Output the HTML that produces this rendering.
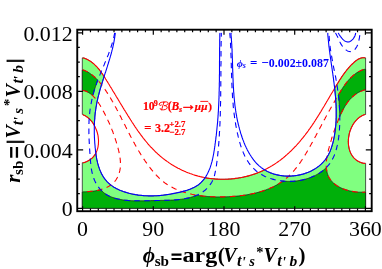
<!DOCTYPE html><html><head><meta charset="utf-8"><style>html,body{margin:0;padding:0;background:#fff}</style></head><body><svg width="382" height="269" viewBox="0 0 382 269" style="display:block;will-change:transform">
<defs>
<clipPath id="pr"><rect x="82.3" y="32.5" width="283.4" height="176.1"/></clipPath>
</defs>
<rect width="382" height="269" fill="#fff"/>
<path d="M365.6 57.9 L365.4 57.9 L364.3 57.7 L363.2 57.7 L362.2 57.8 L361.2 58.0 L360.3 58.3 L359.3 58.7 L358.5 59.1 L357.6 59.6 L356.8 60.1 L356.0 60.7 L355.2 61.3 L354.4 62.0 L353.7 62.7 L353.0 63.3 L352.2 64.0 L351.5 64.7 L350.8 65.4 L350.1 66.1 L349.5 66.9 L348.8 67.6 L348.2 68.4 L347.5 69.1 L346.9 69.9 L346.3 70.7 L345.6 71.5 L345.0 72.3 L344.4 73.1 L343.9 73.9 L343.3 74.7 L342.7 75.5 L342.1 76.3 L341.6 77.2 L341.0 78.0 L340.5 78.9 L339.9 79.7 L339.4 80.5 L338.8 81.4 L338.3 82.3 L337.8 83.1 L337.2 84.0 L336.7 84.8 L336.2 85.7 L335.7 86.6 L335.1 87.4 L334.6 88.3 L334.7 88.6 L334.8 89.6 L334.9 90.6 L335.0 91.6 L335.1 92.6 L335.2 93.6 L335.3 94.6 L335.4 95.6 L335.5 96.6 L335.6 97.6 L335.6 98.6 L335.7 99.6 L335.8 100.6 L335.8 101.6 L335.9 102.6 L336.0 103.6 L336.0 104.6 L336.1 105.6 L336.1 106.6 L336.1 107.6 L336.2 108.6 L336.2 109.6 L336.2 110.6 L336.2 111.6 L336.2 112.6 L336.2 113.6 L336.2 114.6 L336.2 115.7 L336.2 116.7 L336.2 117.7 L336.1 118.7 L336.1 119.7 L336.1 120.7 L336.0 121.7 L335.9 122.7 L335.9 123.7 L335.8 124.7 L335.7 125.8 L335.6 126.8 L335.5 127.8 L335.4 128.8 L335.3 129.8 L335.2 130.8 L335.0 131.8 L334.9 132.8 L334.7 133.8 L334.6 134.8 L334.4 135.8 L334.2 136.8 L334.0 137.8 L333.8 138.9 L333.6 139.9 L333.4 140.9 L333.1 141.8 L332.9 142.8 L332.6 143.8 L332.3 144.8 L332.0 145.8 L331.7 146.8 L331.4 147.7 L331.1 148.7 L330.7 149.6 L330.3 150.6 L330.0 151.5 L329.6 152.4 L329.1 153.3 L328.7 154.2 L328.2 155.1 L327.7 155.9 L327.2 156.8 L326.7 157.6 L326.2 158.4 L325.6 159.2 L325.0 160.0 L324.4 160.7 L323.7 161.5 L323.1 162.2 L322.4 162.9 L321.7 163.6 L321.0 164.3 L320.3 164.9 L319.5 165.6 L318.8 166.2 L318.0 166.8 L317.2 167.4 L316.4 167.9 L315.5 168.5 L314.7 169.0 L313.8 169.5 L312.9 170.0 L312.1 170.5 L311.2 170.9 L310.3 171.4 L309.3 171.8 L308.4 172.2 L307.5 172.5 L306.5 172.9 L305.5 173.2 L304.6 173.6 L303.6 173.9 L302.6 174.2 L301.6 174.4 L300.6 174.7 L299.6 174.9 L298.6 175.1 L297.6 175.3 L296.6 175.5 L295.6 175.6 L294.6 175.7 L293.5 175.9 L292.5 175.9 L291.5 176.0 L290.4 176.1 L289.4 176.1 L288.4 176.1 L287.4 176.1 L286.3 176.1 L285.3 176.0 L284.3 176.0 L283.3 175.9 L282.3 175.8 L281.3 175.6 L280.3 175.5 L279.3 175.3 L278.3 175.1 L277.3 174.9 L276.3 174.7 L275.3 174.4 L274.4 174.2 L273.4 173.9 L272.5 173.6 L271.6 173.2 L270.6 172.9 L269.7 172.5 L268.8 172.1 L267.9 171.7 L267.1 171.3 L266.2 170.8 L265.4 170.3 L264.5 169.9 L264.5 169.9 L263.6 170.3 L262.7 170.8 L261.7 171.2 L260.8 171.6 L259.9 172.0 L259.0 172.3 L258.0 172.7 L257.1 173.1 L256.1 173.4 L255.2 173.8 L254.2 174.1 L253.3 174.4 L252.3 174.7 L251.4 175.0 L250.4 175.3 L249.4 175.6 L248.5 175.9 L247.5 176.1 L246.5 176.4 L245.5 176.6 L244.5 176.8 L243.5 177.1 L242.5 177.3 L241.5 177.5 L240.5 177.7 L239.5 177.8 L238.5 178.0 L237.5 178.2 L236.5 178.3 L235.5 178.4 L234.5 178.6 L233.5 178.7 L232.5 178.8 L231.5 178.9 L230.5 179.0 L229.5 179.0 L228.4 179.1 L227.4 179.2 L226.4 179.2 L225.4 179.2 L224.4 179.3 L223.4 179.3 L222.4 179.3 L221.3 179.3 L220.3 179.3 L219.3 179.2 L218.3 179.2 L217.3 179.1 L216.3 179.1 L215.3 179.0 L214.3 178.9 L213.2 178.8 L212.2 178.7 L211.2 178.6 L210.2 178.5 L209.2 178.4 L208.2 178.2 L207.2 178.1 L206.3 177.9 L205.3 177.7 L205.1 177.7 L204.6 178.4 L204.0 179.2 L203.4 180.0 L202.7 180.7 L202.1 181.4 L201.4 182.2 L200.7 182.8 L200.0 183.5 L199.2 184.1 L198.5 184.7 L197.7 185.3 L196.9 185.8 L196.0 186.3 L195.2 186.8 L194.3 187.3 L193.4 187.7 L192.5 188.1 L191.6 188.5 L190.7 188.9 L189.8 189.3 L188.8 189.6 L187.8 190.0 L186.9 190.3 L185.9 190.6 L184.9 190.9 L183.9 191.1 L182.9 191.4 L181.9 191.7 L180.9 191.9 L180.0 192.2 L179.0 192.4 L178.0 192.6 L177.0 192.8 L176.0 193.0 L175.0 193.2 L174.0 193.4 L173.0 193.6 L172.0 193.8 L171.0 194.0 L170.0 194.2 L169.1 194.3 L168.1 194.5 L167.1 194.6 L166.1 194.8 L165.1 194.9 L164.1 195.0 L163.1 195.2 L162.2 195.3 L161.2 195.4 L160.2 195.5 L159.2 195.6 L158.2 195.6 L157.2 195.7 L156.2 195.8 L155.3 195.8 L154.3 195.8 L153.3 195.9 L152.3 195.9 L151.3 195.9 L150.3 195.9 L149.3 195.9 L148.3 195.9 L147.3 195.8 L146.3 195.8 L145.3 195.7 L144.3 195.7 L143.3 195.6 L142.3 195.5 L141.3 195.4 L140.3 195.3 L139.3 195.2 L138.2 195.1 L137.2 194.9 L136.2 194.7 L135.2 194.6 L134.2 194.4 L133.1 194.2 L132.1 194.0 L131.1 193.8 L130.1 193.5 L129.1 193.3 L128.1 193.0 L127.1 192.7 L126.1 192.4 L125.1 192.1 L124.1 191.8 L123.1 191.5 L122.2 191.1 L121.2 190.7 L120.3 190.4 L119.3 190.0 L118.4 189.5 L117.5 189.1 L116.6 188.7 L115.8 188.2 L114.9 187.7 L114.0 187.2 L113.2 186.7 L112.4 186.1 L111.6 185.6 L110.8 185.0 L110.1 184.4 L109.3 183.8 L108.6 183.1 L107.9 182.5 L107.2 181.8 L106.6 181.1 L106.0 180.4 L105.4 179.7 L104.8 178.9 L104.2 178.2 L103.7 177.4 L103.2 176.6 L102.7 175.7 L102.2 174.9 L101.7 174.1 L101.3 173.2 L100.9 172.3 L100.5 171.4 L100.1 170.5 L99.7 169.6 L99.4 168.7 L99.1 167.7 L98.7 166.8 L98.4 165.8 L98.2 164.8 L97.9 163.9 L97.6 162.9 L97.4 161.9 L97.2 160.9 L96.9 159.9 L96.7 158.9 L96.5 157.8 L96.4 156.8 L96.2 155.8 L96.0 154.7 L95.9 153.7 L95.8 153.1 L95.5 153.7 L95.0 154.5 L94.4 155.3 L93.9 156.1 L93.2 156.9 L92.6 157.6 L91.9 158.3 L91.1 158.9 L90.3 159.5 L89.5 160.1 L88.6 160.6 L87.7 161.1 L86.7 161.6 L85.7 162.0 L84.7 162.4 L83.6 162.7 L82.6 162.7 L82.3 162.7 L82.3 208.3 L365.6 208.3 L365.6 163.4 L365.4 163.4 L364.3 163.4 L363.2 163.2 L362.1 162.9 L361.1 162.6 L360.1 162.2 L359.1 161.8 L358.2 161.3 L357.3 160.8 L356.5 160.2 L355.7 159.6 L355.0 158.9 L354.3 158.3 L353.6 157.6 L353.0 156.8 L352.4 156.0 L351.9 155.2 L351.4 154.4 L350.9 153.5 L350.5 152.6 L350.1 151.7 L349.8 150.8 L349.5 149.8 L349.2 148.8 L349.0 147.8 L348.8 146.8 L348.6 145.8 L348.5 144.8 L348.4 143.8 L348.4 142.7 L348.3 141.6 L348.4 140.6 L348.4 139.5 L348.5 138.5 L348.6 137.4 L348.8 136.3 L349.0 135.3 L349.2 134.2 L349.4 133.2 L349.7 132.2 L350.0 131.1 L350.4 130.1 L350.8 129.1 L351.2 128.1 L351.6 127.2 L352.1 126.2 L352.6 125.3 L353.1 124.4 L353.7 123.5 L354.2 122.7 L354.9 121.9 L355.5 121.1 L356.2 120.3 L356.9 119.6 L357.6 118.9 L358.3 118.2 L359.1 117.6 L359.9 117.0 L360.7 116.5 L361.6 116.0 L362.5 115.5 L363.4 115.1 L364.3 114.7 L365.4 114.5 L365.6 114.5Z M82.3 114.4 L82.6 114.4 L83.5 114.9 L84.4 115.4 L85.3 115.8 L86.1 116.4 L87.0 116.9 L87.7 117.5 L88.5 118.2 L89.3 118.8 L90.0 119.5 L90.7 120.3 L91.3 121.0 L92.0 121.8 L92.6 122.7 L93.2 123.5 L93.7 124.4 L94.2 125.3 L94.4 125.5 L94.4 125.2 L94.4 124.2 L94.4 123.2 L94.5 122.2 L94.5 121.2 L94.6 120.3 L94.7 119.3 L94.8 118.3 L94.8 117.3 L94.9 116.3 L95.0 115.3 L95.1 114.4 L95.2 113.4 L95.3 112.4 L95.5 111.4 L95.6 110.5 L95.7 109.5 L95.9 108.5 L96.0 107.5 L96.2 106.6 L96.4 105.6 L96.5 104.6 L96.7 103.6 L96.9 102.7 L97.1 101.7 L97.3 100.7 L97.5 99.8 L97.7 98.8 L97.9 97.8 L98.2 96.8 L98.4 95.9 L98.7 94.9 L98.9 93.9 L99.2 93.0 L99.4 92.0 L99.7 91.0 L99.9 90.1 L100.2 89.1 L100.5 88.1 L100.8 87.2 L101.1 86.2 L101.4 85.2 L101.7 84.3 L102.0 83.3 L102.3 82.3 L102.6 81.4 L102.9 80.4 L103.2 79.4 L103.5 78.5 L103.8 77.5 L104.1 76.5 L104.1 76.5 L104.0 76.4 L103.4 75.5 L102.9 74.7 L102.3 73.8 L101.7 73.0 L101.1 72.2 L100.5 71.3 L99.9 70.5 L99.3 69.7 L98.7 68.9 L98.0 68.2 L97.4 67.4 L96.7 66.7 L96.0 66.0 L95.3 65.3 L94.6 64.6 L93.9 63.9 L93.1 63.3 L92.4 62.7 L91.6 62.1 L90.8 61.5 L90.0 61.0 L89.1 60.4 L88.3 60.0 L87.4 59.5 L86.5 59.1 L85.6 58.7 L84.6 58.3 L83.7 58.0 L82.6 57.9 L82.3 57.9Z" fill="#80ff80" stroke="#151515" stroke-width="0.7" stroke-linejoin="round"/>
<path d="M365.6 69.4 L365.4 69.4 L364.2 69.3 L363.3 69.6 L362.3 69.9 L361.4 70.3 L360.5 70.7 L359.6 71.2 L358.7 71.6 L357.9 72.1 L357.0 72.6 L356.2 73.2 L355.4 73.7 L354.7 74.3 L353.9 74.9 L353.2 75.5 L352.4 76.2 L351.7 76.8 L351.0 77.5 L350.3 78.2 L349.6 78.9 L349.0 79.6 L348.3 80.4 L347.7 81.1 L347.1 81.9 L346.4 82.7 L345.8 83.5 L345.2 84.3 L344.7 85.1 L344.1 85.9 L343.5 86.7 L342.9 87.6 L342.4 88.4 L341.8 89.3 L341.3 90.2 L340.7 91.0 L340.2 91.9 L339.7 92.8 L339.1 93.6 L338.6 94.5 L338.4 95.0 L338.4 95.2 L338.5 96.2 L338.6 97.2 L338.7 98.2 L338.8 99.2 L338.9 100.2 L339.0 101.2 L339.1 102.2 L339.1 103.1 L339.2 104.1 L339.3 105.1 L339.4 106.1 L339.4 107.1 L339.5 108.1 L339.5 109.1 L339.6 110.1 L339.6 111.1 L339.6 112.1 L339.7 113.1 L339.7 114.2 L339.7 115.2 L339.8 116.2 L339.8 116.6 L339.8 116.4 L340.2 115.5 L340.7 114.6 L341.1 113.6 L341.5 112.7 L342.0 111.8 L342.4 110.9 L342.9 109.9 L343.4 109.0 L343.9 108.2 L344.4 107.3 L344.9 106.4 L345.4 105.5 L346.0 104.7 L346.5 103.8 L347.1 103.0 L347.7 102.2 L348.3 101.4 L348.9 100.6 L349.6 99.9 L350.2 99.1 L350.9 98.4 L351.6 97.7 L352.3 97.0 L353.0 96.3 L353.8 95.7 L354.5 95.1 L355.3 94.5 L356.1 93.9 L356.9 93.4 L357.8 92.8 L358.7 92.3 L359.5 91.9 L360.5 91.4 L361.4 91.0 L362.4 90.7 L363.4 90.3 L364.4 90.0 L365.4 90.0 L365.6 90.0Z M82.3 208.3 L365.6 208.3 L365.6 192.3 L365.4 192.3 L364.5 192.1 L363.5 192.2 L362.6 192.2 L361.6 192.2 L360.6 192.2 L359.6 192.2 L358.6 192.2 L357.5 192.1 L356.5 192.0 L355.5 191.9 L354.4 191.8 L353.4 191.6 L352.4 191.4 L351.3 191.2 L350.3 191.0 L349.2 190.8 L348.2 190.5 L347.2 190.2 L346.2 189.9 L345.2 189.6 L344.2 189.2 L343.2 188.9 L342.2 188.5 L341.3 188.0 L340.3 187.6 L339.4 187.1 L338.5 186.6 L337.6 186.1 L336.8 185.6 L336.0 185.0 L335.2 184.4 L334.4 183.8 L333.6 183.2 L332.9 182.5 L332.2 181.9 L331.6 181.2 L331.0 180.4 L330.4 179.7 L329.9 178.9 L329.4 178.1 L328.9 177.3 L328.5 176.4 L328.1 175.6 L327.8 174.7 L327.5 173.8 L327.2 172.9 L327.0 171.9 L326.8 170.9 L326.6 170.0 L326.5 169.0 L326.4 168.0 L326.3 167.5 L325.8 168.0 L325.1 168.7 L324.4 169.3 L323.6 170.0 L322.9 170.6 L322.1 171.2 L321.3 171.8 L320.5 172.3 L319.7 172.9 L318.8 173.4 L318.0 173.9 L317.1 174.4 L316.2 174.9 L315.3 175.4 L314.5 175.8 L313.5 176.2 L312.6 176.6 L311.7 177.0 L310.8 177.4 L309.8 177.8 L308.9 178.1 L307.9 178.4 L307.0 178.7 L306.0 179.0 L305.0 179.3 L304.0 179.6 L303.0 179.8 L302.0 180.0 L301.0 180.2 L300.0 180.4 L299.0 180.6 L298.0 180.7 L297.0 180.9 L296.0 181.0 L294.9 181.1 L293.9 181.2 L292.9 181.3 L291.8 181.3 L290.8 181.4 L289.8 181.4 L288.7 181.4 L287.7 181.4 L286.7 181.3 L285.6 181.3 L284.6 181.2 L283.6 181.1 L282.7 181.1 L282.3 181.4 L281.5 182.0 L280.6 182.5 L279.8 183.0 L279.0 183.6 L278.2 184.1 L277.3 184.6 L276.5 185.1 L275.6 185.5 L274.7 186.0 L273.9 186.4 L273.0 186.9 L272.1 187.3 L271.2 187.7 L270.3 188.1 L269.4 188.5 L268.5 188.9 L267.5 189.2 L266.6 189.6 L265.7 190.0 L264.7 190.3 L263.8 190.6 L262.8 190.9 L261.9 191.2 L260.9 191.5 L260.0 191.8 L259.0 192.1 L258.0 192.4 L257.1 192.6 L256.1 192.9 L255.1 193.1 L254.1 193.4 L253.1 193.6 L252.1 193.8 L251.1 194.0 L250.1 194.2 L249.1 194.4 L248.1 194.6 L247.1 194.8 L246.1 194.9 L245.1 195.1 L244.1 195.2 L243.0 195.4 L242.0 195.5 L241.0 195.6 L240.0 195.8 L239.0 195.9 L238.0 196.0 L236.9 196.1 L235.9 196.2 L234.9 196.3 L233.9 196.4 L232.9 196.4 L231.8 196.5 L230.8 196.6 L229.8 196.6 L228.8 196.7 L227.8 196.7 L226.7 196.8 L225.7 196.8 L224.7 196.8 L223.7 196.9 L222.7 196.9 L221.7 196.9 L220.7 196.9 L219.7 196.9 L218.7 196.9 L217.7 196.9 L216.7 196.9 L215.7 196.9 L214.7 196.9 L213.7 196.8 L212.7 196.8 L211.7 196.8 L210.7 196.7 L209.7 196.6 L208.7 196.6 L207.7 196.5 L206.7 196.4 L205.7 196.3 L204.7 196.3 L203.8 196.2 L202.8 196.0 L201.8 195.9 L200.8 195.8 L199.8 195.7 L198.8 195.5 L197.8 195.4 L196.8 195.2 L196.8 195.2 L196.2 195.5 L195.2 195.8 L194.3 196.2 L193.4 196.5 L192.5 196.8 L191.5 197.1 L190.5 197.4 L189.6 197.6 L188.6 197.9 L187.6 198.1 L186.6 198.3 L185.6 198.5 L184.6 198.7 L183.6 198.9 L182.6 199.0 L181.5 199.2 L180.5 199.3 L179.5 199.5 L178.4 199.6 L177.4 199.7 L176.4 199.8 L175.3 199.9 L174.3 199.9 L173.2 200.0 L172.2 200.1 L171.1 200.1 L170.1 200.2 L169.1 200.2 L168.0 200.3 L167.0 200.3 L166.0 200.3 L164.9 200.3 L163.9 200.4 L162.9 200.4 L161.9 200.4 L160.9 200.4 L159.9 200.5 L158.9 200.5 L157.9 200.5 L156.9 200.5 L155.9 200.5 L155.0 200.6 L154.0 200.6 L153.0 200.6 L152.1 200.6 L151.1 200.6 L150.1 200.7 L149.2 200.7 L148.2 200.7 L147.3 200.7 L146.3 200.7 L145.3 200.8 L144.4 200.8 L143.4 200.8 L142.4 200.8 L141.4 200.8 L140.4 200.8 L139.4 200.8 L138.4 200.8 L137.4 200.8 L136.4 200.8 L135.3 200.8 L134.3 200.8 L133.3 200.8 L132.3 200.7 L131.3 200.7 L130.2 200.6 L129.2 200.6 L128.2 200.5 L127.2 200.4 L126.1 200.3 L125.1 200.2 L124.1 200.1 L123.1 199.9 L122.1 199.8 L121.1 199.6 L120.1 199.4 L119.1 199.2 L118.1 199.0 L117.1 198.8 L116.1 198.5 L115.1 198.2 L114.2 197.9 L113.2 197.6 L112.3 197.3 L111.3 196.9 L110.4 196.6 L109.5 196.2 L108.6 195.7 L107.7 195.3 L106.8 194.8 L106.0 194.2 L105.2 193.7 L104.3 193.1 L103.6 192.5 L102.8 191.8 L102.1 191.1 L101.3 190.4 L100.6 189.7 L100.6 189.7 L99.7 189.9 L98.7 190.1 L97.7 190.4 L96.6 190.6 L95.6 190.8 L94.6 190.9 L93.5 191.1 L92.5 191.2 L91.4 191.3 L90.4 191.4 L89.4 191.5 L88.4 191.6 L87.4 191.7 L86.4 191.7 L85.4 191.8 L84.5 191.8 L83.5 191.8 L82.6 192.0 L82.3 192.0Z M82.3 90.5 L82.6 90.5 L83.8 90.5 L84.7 90.8 L85.7 91.1 L86.6 91.5 L87.4 91.9 L88.3 92.4 L89.1 92.9 L89.9 93.4 L90.7 94.0 L91.5 94.6 L92.2 95.2 L92.8 95.8 L92.9 95.3 L93.2 94.3 L93.5 93.3 L93.7 92.3 L94.0 91.4 L94.3 90.4 L94.6 89.4 L94.9 88.5 L95.2 87.5 L95.5 86.6 L95.8 85.6 L96.2 84.7 L96.5 83.7 L96.8 82.8 L97.2 81.8 L97.5 80.9 L97.8 80.2 L97.4 79.8 L96.7 79.1 L96.0 78.4 L95.3 77.7 L94.6 77.0 L93.8 76.4 L93.1 75.7 L92.3 75.1 L91.5 74.5 L90.7 73.9 L89.9 73.4 L89.1 72.8 L88.2 72.3 L87.4 71.8 L86.5 71.4 L85.6 70.9 L84.6 70.5 L83.7 70.1 L82.6 70.0 L82.3 70.0Z" fill="#00b00a" stroke="#151515" stroke-width="0.7" stroke-linejoin="round"/>
<g clip-path="url(#pr)" fill="none" stroke-width="1.1" stroke-linejoin="round">
<path stroke="#ff0000" d="M82.6 57.9 L83.7 58.0 L84.6 58.3 L85.6 58.7 L86.5 59.1 L87.4 59.5 L88.3 60.0 L89.1 60.4 L90.0 61.0 L90.8 61.5 L91.6 62.1 L92.4 62.7 L93.1 63.3 L93.9 63.9 L94.6 64.6 L95.3 65.3 L96.0 66.0 L96.7 66.7 L97.4 67.4 L98.0 68.2 L98.7 68.9 L99.3 69.7 L99.9 70.5 L100.5 71.3 L101.1 72.2 L101.7 73.0 L102.3 73.8 L102.9 74.7 L103.4 75.5 L104.0 76.4 L104.6 77.2 L105.1 78.1 L105.6 79.0 L106.2 79.8 L106.7 80.7 L107.3 81.6 L107.8 82.4 L108.3 83.3 L108.9 84.2 L109.4 85.0 L109.9 85.9 L110.4 86.8 L111.0 87.6 L111.5 88.5 L112.0 89.3 L112.5 90.2 L113.0 91.1 L113.5 91.9 L114.1 92.8 L114.6 93.6 L115.1 94.5 L115.6 95.3 L116.1 96.2 L116.6 97.0 L117.1 97.9 L117.7 98.7 L118.2 99.6 L118.7 100.4 L119.2 101.3 L119.7 102.1 L120.2 103.0 L120.7 103.8 L121.2 104.7 L121.8 105.5 L122.3 106.4 L122.8 107.2 L123.3 108.1 L123.8 108.9 L124.3 109.8 L124.9 110.6 L125.4 111.5 L125.9 112.3 L126.4 113.2 L127.0 114.0 L127.5 114.9 L128.0 115.7 L128.6 116.6 L129.1 117.4 L129.6 118.3 L130.2 119.1 L130.7 120.0 L131.3 120.8 L131.8 121.7 L132.3 122.5 L132.9 123.4 L133.5 124.2 L134.0 125.1 L134.6 125.9 L135.1 126.8 L135.7 127.6 L136.3 128.5 L136.9 129.3 L137.4 130.1 L138.0 131.0 L138.6 131.8 L139.2 132.6 L139.8 133.4 L140.4 134.3 L141.0 135.1 L141.6 135.9 L142.2 136.7 L142.8 137.5 L143.4 138.3 L144.1 139.1 L144.7 139.9 L145.3 140.7 L146.0 141.5 L146.6 142.2 L147.3 143.0 L147.9 143.8 L148.6 144.5 L149.2 145.3 L149.9 146.0 L150.6 146.8 L151.3 147.5 L152.0 148.2 L152.7 149.0 L153.4 149.7 L154.1 150.4 L154.8 151.1 L155.5 151.8 L156.2 152.5 L157.0 153.2 L157.7 153.9 L158.4 154.5 L159.2 155.2 L159.9 155.8 L160.7 156.5 L161.5 157.1 L162.3 157.8 L163.0 158.4 L163.8 159.0 L164.6 159.6 L165.4 160.2 L166.2 160.8 L167.0 161.4 L167.8 161.9 L168.7 162.5 L169.5 163.1 L170.3 163.6 L171.2 164.2 L172.0 164.7 L172.9 165.2 L173.7 165.7 L174.6 166.2 L175.4 166.7 L176.3 167.2 L177.2 167.7 L178.0 168.2 L178.9 168.6 L179.8 169.1 L180.7 169.5 L181.6 170.0 L182.5 170.4 L183.4 170.8 L184.3 171.2 L185.2 171.6 L186.1 172.0 L187.1 172.4 L188.0 172.8 L188.9 173.1 L189.9 173.5 L190.8 173.8 L191.7 174.1 L192.7 174.5 L193.6 174.8 L194.6 175.1 L195.5 175.4 L196.5 175.6 L197.5 175.9 L198.4 176.2 L199.4 176.4 L200.4 176.7 L201.3 176.9 L202.3 177.1 L203.3 177.3 L204.3 177.5 L205.3 177.7 L206.3 177.9 L207.2 178.1 L208.2 178.2 L209.2 178.4 L210.2 178.5 L211.2 178.6 L212.2 178.7 L213.2 178.8 L214.3 178.9 L215.3 179.0 L216.3 179.1 L217.3 179.1 L218.3 179.2 L219.3 179.2 L220.3 179.3 L221.3 179.3 L222.4 179.3 L223.4 179.3 L224.4 179.3 L225.4 179.2 L226.4 179.2 L227.4 179.2 L228.4 179.1 L229.5 179.0 L230.5 179.0 L231.5 178.9 L232.5 178.8 L233.5 178.7 L234.5 178.6 L235.5 178.4 L236.5 178.3 L237.5 178.2 L238.5 178.0 L239.5 177.8 L240.5 177.7 L241.5 177.5 L242.5 177.3 L243.5 177.1 L244.5 176.8 L245.5 176.6 L246.5 176.4 L247.5 176.1 L248.5 175.9 L249.4 175.6 L250.4 175.3 L251.4 175.0 L252.3 174.7 L253.3 174.4 L254.2 174.1 L255.2 173.8 L256.1 173.4 L257.1 173.1 L258.0 172.7 L259.0 172.3 L259.9 172.0 L260.8 171.6 L261.7 171.2 L262.7 170.8 L263.6 170.3 L264.5 169.9 L265.4 169.5 L266.2 169.0 L267.1 168.6 L268.0 168.1 L268.9 167.6 L269.8 167.1 L270.6 166.6 L271.5 166.1 L272.3 165.6 L273.2 165.1 L274.0 164.5 L274.8 164.0 L275.7 163.4 L276.5 162.9 L277.3 162.3 L278.1 161.7 L278.9 161.1 L279.7 160.6 L280.5 160.0 L281.3 159.3 L282.1 158.7 L282.9 158.1 L283.7 157.5 L284.4 156.8 L285.2 156.2 L285.9 155.5 L286.7 154.9 L287.4 154.2 L288.2 153.5 L288.9 152.9 L289.6 152.2 L290.4 151.5 L291.1 150.8 L291.8 150.1 L292.5 149.4 L293.2 148.7 L293.9 148.0 L294.6 147.2 L295.3 146.5 L296.0 145.8 L296.7 145.0 L297.3 144.3 L298.0 143.5 L298.7 142.8 L299.3 142.0 L300.0 141.3 L300.6 140.5 L301.3 139.7 L301.9 138.9 L302.6 138.2 L303.2 137.4 L303.8 136.6 L304.4 135.8 L305.1 135.0 L305.7 134.2 L306.3 133.4 L306.9 132.6 L307.5 131.8 L308.1 131.0 L308.6 130.2 L309.2 129.4 L309.8 128.6 L310.4 127.7 L311.0 126.9 L311.5 126.1 L312.1 125.3 L312.7 124.4 L313.2 123.6 L313.8 122.8 L314.3 121.9 L314.9 121.1 L315.4 120.2 L316.0 119.4 L316.5 118.5 L317.0 117.7 L317.6 116.9 L318.1 116.0 L318.6 115.1 L319.2 114.3 L319.7 113.4 L320.2 112.6 L320.8 111.7 L321.3 110.9 L321.8 110.0 L322.3 109.1 L322.8 108.3 L323.3 107.4 L323.9 106.5 L324.4 105.7 L324.9 104.8 L325.4 103.9 L325.9 103.1 L326.4 102.2 L326.9 101.3 L327.5 100.5 L328.0 99.6 L328.5 98.7 L329.0 97.9 L329.5 97.0 L330.0 96.1 L330.5 95.3 L331.0 94.4 L331.5 93.5 L332.1 92.6 L332.6 91.8 L333.1 90.9 L333.6 90.0 L334.1 89.2 L334.6 88.3 L335.1 87.4 L335.7 86.6 L336.2 85.7 L336.7 84.8 L337.2 84.0 L337.8 83.1 L338.3 82.3 L338.8 81.4 L339.4 80.5 L339.9 79.7 L340.5 78.9 L341.0 78.0 L341.6 77.2 L342.1 76.3 L342.7 75.5 L343.3 74.7 L343.9 73.9 L344.4 73.1 L345.0 72.3 L345.6 71.5 L346.3 70.7 L346.9 69.9 L347.5 69.1 L348.2 68.4 L348.8 67.6 L349.5 66.9 L350.1 66.1 L350.8 65.4 L351.5 64.7 L352.2 64.0 L353.0 63.3 L353.7 62.7 L354.4 62.0 L355.2 61.3 L356.0 60.7 L356.8 60.1 L357.6 59.6 L358.5 59.1 L359.3 58.7 L360.3 58.3 L361.2 58.0 L362.2 57.8 L363.2 57.7 L364.3 57.7 L365.4 57.9"/>
<path stroke="#ff0000" d="M82.6 114.4 L83.5 114.9 L84.4 115.4 L85.3 115.8 L86.1 116.4 L87.0 116.9 L87.7 117.5 L88.5 118.2 L89.3 118.8 L90.0 119.5 L90.7 120.3 L91.3 121.0 L92.0 121.8 L92.6 122.7 L93.2 123.5 L93.7 124.4 L94.2 125.3 L94.7 126.2 L95.2 127.1 L95.6 128.1 L96.0 129.0 L96.4 130.0 L96.8 131.0 L97.1 132.0 L97.4 133.0 L97.6 134.0 L97.9 135.0 L98.1 136.1 L98.2 137.1 L98.3 138.1 L98.4 139.2 L98.5 140.2 L98.5 141.3 L98.5 142.3 L98.4 143.3 L98.4 144.3 L98.2 145.3 L98.1 146.3 L97.9 147.3 L97.7 148.3 L97.4 149.2 L97.1 150.2 L96.7 151.1 L96.4 152.0 L95.9 152.9 L95.5 153.7 L95.0 154.5 L94.4 155.3 L93.9 156.1 L93.2 156.9 L92.6 157.6 L91.9 158.3 L91.1 158.9 L90.3 159.5 L89.5 160.1 L88.6 160.6 L87.7 161.1 L86.7 161.6 L85.7 162.0 L84.7 162.4 L83.6 162.7 L82.6 162.7"/>
<path stroke="#ff0000" d="M365.4 114.5 L364.3 114.7 L363.4 115.1 L362.5 115.5 L361.6 116.0 L360.7 116.5 L359.9 117.0 L359.1 117.6 L358.3 118.2 L357.6 118.9 L356.9 119.6 L356.2 120.3 L355.5 121.1 L354.9 121.9 L354.2 122.7 L353.7 123.5 L353.1 124.4 L352.6 125.3 L352.1 126.2 L351.6 127.2 L351.2 128.1 L350.8 129.1 L350.4 130.1 L350.0 131.1 L349.7 132.2 L349.4 133.2 L349.2 134.2 L349.0 135.3 L348.8 136.3 L348.6 137.4 L348.5 138.5 L348.4 139.5 L348.4 140.6 L348.3 141.6 L348.4 142.7 L348.4 143.8 L348.5 144.8 L348.6 145.8 L348.8 146.8 L349.0 147.8 L349.2 148.8 L349.5 149.8 L349.8 150.8 L350.1 151.7 L350.5 152.6 L350.9 153.5 L351.4 154.4 L351.9 155.2 L352.4 156.0 L353.0 156.8 L353.6 157.6 L354.3 158.3 L355.0 158.9 L355.7 159.6 L356.5 160.2 L357.3 160.8 L358.2 161.3 L359.1 161.8 L360.1 162.2 L361.1 162.6 L362.1 162.9 L363.2 163.2 L364.3 163.4 L365.4 163.4"/>
<path stroke="#ff0000" stroke-dasharray="5.5 4.5" d="M82.6 70.0 L83.7 70.1 L84.6 70.5 L85.6 70.9 L86.5 71.4 L87.4 71.8 L88.2 72.3 L89.1 72.8 L89.9 73.4 L90.7 73.9 L91.5 74.5 L92.3 75.1 L93.1 75.7 L93.8 76.4 L94.6 77.0 L95.3 77.7 L96.0 78.4 L96.7 79.1 L97.4 79.8 L98.1 80.5 L98.8 81.2 L99.4 82.0 L100.1 82.8 L100.7 83.5 L101.3 84.3 L101.9 85.1 L102.5 85.9 L103.1 86.7 L103.7 87.6 L104.3 88.4 L104.9 89.2 L105.4 90.1 L106.0 90.9 L106.5 91.7 L107.1 92.6 L107.6 93.4 L108.2 94.3 L108.7 95.1 L109.2 96.0 L109.7 96.8 L110.3 97.7 L110.8 98.6 L111.3 99.4 L111.8 100.3 L112.3 101.2 L112.8 102.0 L113.3 102.9 L113.8 103.8 L114.3 104.7 L114.8 105.5 L115.2 106.4 L115.7 107.3 L116.2 108.2 L116.7 109.1 L117.1 110.0 L117.6 110.8 L118.1 111.7 L118.5 112.6 L119.0 113.5 L119.5 114.4 L119.9 115.3 L120.4 116.2 L120.8 117.1 L121.3 118.0 L121.7 118.9 L122.2 119.8 L122.6 120.7 L123.1 121.6 L123.5 122.4 L124.0 123.3 L124.4 124.2 L124.9 125.1 L125.4 126.0 L125.8 126.9 L126.3 127.8 L126.7 128.7 L127.2 129.6 L127.6 130.5 L128.1 131.4 L128.5 132.3 L129.0 133.2 L129.4 134.1 L129.9 135.0 L130.4 135.9 L130.8 136.7 L131.3 137.6 L131.8 138.5 L132.2 139.4 L132.7 140.3 L133.2 141.2 L133.7 142.1 L134.2 142.9 L134.6 143.8 L135.1 144.7 L135.6 145.6 L136.1 146.4 L136.6 147.3 L137.1 148.2 L137.6 149.1 L138.1 149.9 L138.6 150.8 L139.2 151.7 L139.7 152.5 L140.2 153.4 L140.7 154.2 L141.3 155.1 L141.8 155.9 L142.3 156.8 L142.9 157.6 L143.4 158.5 L144.0 159.3 L144.6 160.1 L145.1 161.0 L145.7 161.8 L146.3 162.6 L146.9 163.5 L147.4 164.3 L148.0 165.1 L148.6 165.9 L149.2 166.7 L149.9 167.5 L150.5 168.3 L151.1 169.1 L151.7 169.9 L152.4 170.7 L153.0 171.5 L153.7 172.3 L154.3 173.0 L155.0 173.8 L155.7 174.5 L156.4 175.3 L157.1 176.0 L157.8 176.7 L158.5 177.4 L159.2 178.1 L159.9 178.8 L160.7 179.4 L161.4 180.1 L162.2 180.7 L162.9 181.4 L163.7 182.0 L164.5 182.6 L165.3 183.2 L166.1 183.7 L166.9 184.3 L167.8 184.8 L168.6 185.4 L169.5 185.9 L170.3 186.4 L171.2 186.9 L172.1 187.3 L173.0 187.8 L173.9 188.2 L174.8 188.7 L175.7 189.1 L176.6 189.5 L177.5 189.9 L178.4 190.2 L179.4 190.6 L180.3 191.0 L181.2 191.3 L182.2 191.6 L183.2 191.9 L184.1 192.2 L185.1 192.5 L186.0 192.8 L187.0 193.1 L188.0 193.3 L189.0 193.6 L189.9 193.8 L190.9 194.0 L191.9 194.3 L192.9 194.5 L193.9 194.7 L194.9 194.9 L195.9 195.0 L196.8 195.2 L197.8 195.4 L198.8 195.5 L199.8 195.7 L200.8 195.8 L201.8 195.9 L202.8 196.0 L203.8 196.2 L204.7 196.3 L205.7 196.3 L206.7 196.4 L207.7 196.5 L208.7 196.6 L209.7 196.6 L210.7 196.7 L211.7 196.8 L212.7 196.8 L213.7 196.8 L214.7 196.9 L215.7 196.9 L216.7 196.9 L217.7 196.9 L218.7 196.9 L219.7 196.9 L220.7 196.9 L221.7 196.9 L222.7 196.9 L223.7 196.9 L224.7 196.8 L225.7 196.8 L226.7 196.8 L227.8 196.7 L228.8 196.7 L229.8 196.6 L230.8 196.6 L231.8 196.5 L232.9 196.4 L233.9 196.4 L234.9 196.3 L235.9 196.2 L236.9 196.1 L238.0 196.0 L239.0 195.9 L240.0 195.8 L241.0 195.6 L242.0 195.5 L243.0 195.4 L244.1 195.2 L245.1 195.1 L246.1 194.9 L247.1 194.8 L248.1 194.6 L249.1 194.4 L250.1 194.2 L251.1 194.0 L252.1 193.8 L253.1 193.6 L254.1 193.4 L255.1 193.1 L256.1 192.9 L257.1 192.6 L258.0 192.4 L259.0 192.1 L260.0 191.8 L260.9 191.5 L261.9 191.2 L262.8 190.9 L263.8 190.6 L264.7 190.3 L265.7 190.0 L266.6 189.6 L267.5 189.2 L268.5 188.9 L269.4 188.5 L270.3 188.1 L271.2 187.7 L272.1 187.3 L273.0 186.9 L273.9 186.4 L274.7 186.0 L275.6 185.5 L276.5 185.1 L277.3 184.6 L278.2 184.1 L279.0 183.6 L279.8 183.0 L280.6 182.5 L281.5 182.0 L282.3 181.4 L283.0 180.8 L283.8 180.3 L284.6 179.7 L285.4 179.1 L286.1 178.4 L286.9 177.8 L287.6 177.2 L288.3 176.5 L289.1 175.8 L289.8 175.1 L290.5 174.4 L291.2 173.7 L291.8 173.0 L292.5 172.3 L293.2 171.5 L293.8 170.8 L294.5 170.0 L295.1 169.2 L295.8 168.5 L296.4 167.7 L297.0 166.9 L297.6 166.1 L298.2 165.3 L298.8 164.5 L299.4 163.6 L300.0 162.8 L300.6 162.0 L301.1 161.1 L301.7 160.3 L302.3 159.4 L302.8 158.6 L303.4 157.7 L303.9 156.8 L304.5 156.0 L305.0 155.1 L305.5 154.2 L306.1 153.3 L306.6 152.4 L307.1 151.6 L307.6 150.7 L308.1 149.8 L308.6 148.9 L309.1 148.0 L309.6 147.1 L310.1 146.2 L310.6 145.3 L311.1 144.5 L311.6 143.6 L312.1 142.7 L312.6 141.8 L313.0 140.9 L313.5 140.0 L314.0 139.2 L314.5 138.3 L314.9 137.4 L315.4 136.5 L315.9 135.7 L316.3 134.8 L316.8 133.9 L317.3 133.0 L317.7 132.2 L318.2 131.3 L318.7 130.4 L319.1 129.5 L319.6 128.7 L320.0 127.8 L320.5 126.9 L321.0 126.0 L321.4 125.2 L321.9 124.3 L322.4 123.4 L322.8 122.6 L323.3 121.7 L323.8 120.8 L324.2 119.9 L324.7 119.1 L325.2 118.2 L325.6 117.3 L326.1 116.5 L326.6 115.6 L327.1 114.7 L327.6 113.8 L328.0 113.0 L328.5 112.1 L329.0 111.2 L329.5 110.3 L330.0 109.5 L330.5 108.6 L331.0 107.7 L331.5 106.8 L332.0 106.0 L332.5 105.1 L333.0 104.2 L333.5 103.3 L334.0 102.4 L334.5 101.6 L335.0 100.7 L335.5 99.8 L336.0 98.9 L336.6 98.0 L337.1 97.2 L337.6 96.3 L338.1 95.4 L338.6 94.5 L339.1 93.6 L339.7 92.8 L340.2 91.9 L340.7 91.0 L341.3 90.2 L341.8 89.3 L342.4 88.4 L342.9 87.6 L343.5 86.7 L344.1 85.9 L344.7 85.1 L345.2 84.3 L345.8 83.5 L346.4 82.7 L347.1 81.9 L347.7 81.1 L348.3 80.4 L349.0 79.6 L349.6 78.9 L350.3 78.2 L351.0 77.5 L351.7 76.8 L352.4 76.2 L353.2 75.5 L353.9 74.9 L354.7 74.3 L355.4 73.7 L356.2 73.2 L357.0 72.6 L357.9 72.1 L358.7 71.6 L359.6 71.2 L360.5 70.7 L361.4 70.3 L362.3 69.9 L363.3 69.6 L364.2 69.3 L365.4 69.4"/>
<path stroke="#ff0000" stroke-dasharray="5.5 4.5" d="M82.6 90.5 L83.8 90.5 L84.7 90.8 L85.7 91.1 L86.6 91.5 L87.4 91.9 L88.3 92.4 L89.1 92.9 L89.9 93.4 L90.7 94.0 L91.5 94.6 L92.2 95.2 L92.9 95.9 L93.6 96.6 L94.3 97.3 L95.0 98.0 L95.6 98.8 L96.2 99.6 L96.8 100.4 L97.4 101.2 L98.0 102.1 L98.6 102.9 L99.1 103.8 L99.7 104.7 L100.2 105.5 L100.7 106.4 L101.2 107.3 L101.7 108.2 L102.2 109.1 L102.7 110.0 L103.2 110.9 L103.7 111.8 L104.2 112.7 L104.6 113.6 L105.1 114.5 L105.5 115.4 L106.0 116.3 L106.4 117.2 L106.9 118.1 L107.3 119.0 L107.7 119.9 L108.1 120.8 L108.6 121.7 L109.0 122.6 L109.4 123.5 L109.8 124.4 L110.2 125.3 L110.5 126.2 L110.9 127.1 L111.3 128.1 L111.7 129.0 L112.0 129.9 L112.4 130.8 L112.8 131.7 L113.1 132.7 L113.4 133.6 L113.8 134.5 L114.1 135.5 L114.4 136.4 L114.8 137.4 L115.1 138.3 L115.4 139.3 L115.7 140.3 L116.0 141.2 L116.3 142.2 L116.6 143.2 L116.9 144.2 L117.2 145.1 L117.5 146.1 L117.7 147.1 L118.0 148.1 L118.3 149.1 L118.5 150.2 L118.8 151.2 L119.0 152.2 L119.2 153.2 L119.4 154.2 L119.6 155.3 L119.8 156.3 L119.9 157.3 L120.1 158.3 L120.2 159.3 L120.3 160.4 L120.4 161.4 L120.4 162.4 L120.4 163.4 L120.4 164.4 L120.4 165.4 L120.4 166.4 L120.3 167.4 L120.2 168.4 L120.0 169.4 L119.9 170.4 L119.6 171.3 L119.4 172.3 L119.1 173.3 L118.8 174.2 L118.5 175.1 L118.1 176.0 L117.7 176.9 L117.2 177.8 L116.7 178.6 L116.2 179.5 L115.7 180.3 L115.1 181.0 L114.5 181.8 L113.8 182.5 L113.1 183.2 L112.4 183.8 L111.7 184.4 L110.9 185.0 L110.1 185.6 L109.2 186.1 L108.4 186.6 L107.5 187.1 L106.6 187.5 L105.6 187.9 L104.7 188.3 L103.7 188.7 L102.7 189.0 L101.7 189.3 L100.7 189.6 L99.7 189.9 L98.7 190.1 L97.7 190.4 L96.6 190.6 L95.6 190.8 L94.6 190.9 L93.5 191.1 L92.5 191.2 L91.4 191.3 L90.4 191.4 L89.4 191.5 L88.4 191.6 L87.4 191.7 L86.4 191.7 L85.4 191.8 L84.5 191.8 L83.5 191.8 L82.6 192.0"/>
<path stroke="#ff0000" stroke-dasharray="5.5 4.5" d="M365.4 90.0 L364.4 90.0 L363.4 90.3 L362.4 90.7 L361.4 91.0 L360.5 91.4 L359.5 91.9 L358.7 92.3 L357.8 92.8 L356.9 93.4 L356.1 93.9 L355.3 94.5 L354.5 95.1 L353.8 95.7 L353.0 96.3 L352.3 97.0 L351.6 97.7 L350.9 98.4 L350.2 99.1 L349.6 99.9 L348.9 100.6 L348.3 101.4 L347.7 102.2 L347.1 103.0 L346.5 103.8 L346.0 104.7 L345.4 105.5 L344.9 106.4 L344.4 107.3 L343.9 108.2 L343.4 109.0 L342.9 109.9 L342.4 110.9 L342.0 111.8 L341.5 112.7 L341.1 113.6 L340.7 114.6 L340.2 115.5 L339.8 116.4 L339.4 117.4 L339.0 118.3 L338.6 119.2 L338.2 120.2 L337.8 121.1 L337.5 122.1 L337.1 123.0 L336.7 123.9 L336.4 124.9 L336.0 125.8 L335.7 126.7 L335.3 127.7 L335.0 128.6 L334.7 129.5 L334.3 130.5 L334.0 131.4 L333.7 132.3 L333.4 133.3 L333.0 134.2 L332.7 135.2 L332.4 136.1 L332.1 137.1 L331.8 138.0 L331.5 139.0 L331.3 139.9 L331.0 140.9 L330.7 141.9 L330.4 142.8 L330.1 143.8 L329.9 144.8 L329.6 145.7 L329.3 146.7 L329.1 147.7 L328.8 148.7 L328.5 149.7 L328.3 150.7 L328.0 151.7 L327.8 152.7 L327.6 153.7 L327.4 154.7 L327.2 155.7 L327.0 156.8 L326.8 157.8 L326.7 158.8 L326.5 159.8 L326.4 160.9 L326.3 161.9 L326.3 162.9 L326.2 163.9 L326.2 165.0 L326.2 166.0 L326.3 167.0 L326.4 168.0 L326.5 169.0 L326.6 170.0 L326.8 170.9 L327.0 171.9 L327.2 172.9 L327.5 173.8 L327.8 174.7 L328.1 175.6 L328.5 176.4 L328.9 177.3 L329.4 178.1 L329.9 178.9 L330.4 179.7 L331.0 180.4 L331.6 181.2 L332.2 181.9 L332.9 182.5 L333.6 183.2 L334.4 183.8 L335.2 184.4 L336.0 185.0 L336.8 185.6 L337.6 186.1 L338.5 186.6 L339.4 187.1 L340.3 187.6 L341.3 188.0 L342.2 188.5 L343.2 188.9 L344.2 189.2 L345.2 189.6 L346.2 189.9 L347.2 190.2 L348.2 190.5 L349.2 190.8 L350.3 191.0 L351.3 191.2 L352.4 191.4 L353.4 191.6 L354.4 191.8 L355.5 191.9 L356.5 192.0 L357.5 192.1 L358.6 192.2 L359.6 192.2 L360.6 192.2 L361.6 192.2 L362.6 192.2 L363.5 192.2 L364.5 192.1 L365.4 192.3"/>
<path stroke="#0000ff" d="M115.3 32.8 L115.2 33.8 L115.1 34.8 L114.9 35.8 L114.8 36.7 L114.7 37.7 L114.5 38.7 L114.3 39.7 L114.2 40.7 L114.0 41.6 L113.8 42.6 L113.6 43.6 L113.4 44.6 L113.2 45.5 L113.0 46.5 L112.8 47.5 L112.5 48.5 L112.3 49.4 L112.0 50.4 L111.8 51.4 L111.5 52.3 L111.3 53.3 L111.0 54.3 L110.7 55.3 L110.5 56.2 L110.2 57.2 L109.9 58.2 L109.6 59.1 L109.3 60.1 L109.0 61.1 L108.7 62.0 L108.4 63.0 L108.1 64.0 L107.8 64.9 L107.5 65.9 L107.2 66.9 L106.9 67.8 L106.6 68.8 L106.3 69.8 L106.0 70.7 L105.7 71.7 L105.3 72.7 L105.0 73.6 L104.7 74.6 L104.4 75.6 L104.1 76.5 L103.8 77.5 L103.5 78.5 L103.2 79.4 L102.9 80.4 L102.6 81.4 L102.3 82.3 L102.0 83.3 L101.7 84.3 L101.4 85.2 L101.1 86.2 L100.8 87.2 L100.5 88.1 L100.2 89.1 L99.9 90.1 L99.7 91.0 L99.4 92.0 L99.2 93.0 L98.9 93.9 L98.7 94.9 L98.4 95.9 L98.2 96.8 L97.9 97.8 L97.7 98.8 L97.5 99.8 L97.3 100.7 L97.1 101.7 L96.9 102.7 L96.7 103.6 L96.5 104.6 L96.4 105.6 L96.2 106.6 L96.0 107.5 L95.9 108.5 L95.7 109.5 L95.6 110.5 L95.5 111.4 L95.3 112.4 L95.2 113.4 L95.1 114.4 L95.0 115.3 L94.9 116.3 L94.8 117.3 L94.8 118.3 L94.7 119.3 L94.6 120.3 L94.5 121.2 L94.5 122.2 L94.4 123.2 L94.4 124.2 L94.4 125.2 L94.3 126.2 L94.3 127.2 L94.3 128.2 L94.3 129.2 L94.3 130.2 L94.3 131.2 L94.3 132.2 L94.3 133.2 L94.3 134.2 L94.4 135.2 L94.4 136.2 L94.4 137.2 L94.5 138.3 L94.5 139.3 L94.6 140.3 L94.7 141.3 L94.7 142.3 L94.8 143.4 L94.9 144.4 L95.0 145.4 L95.1 146.5 L95.1 147.5 L95.3 148.5 L95.4 149.6 L95.5 150.6 L95.6 151.6 L95.7 152.7 L95.9 153.7 L96.0 154.7 L96.2 155.8 L96.4 156.8 L96.5 157.8 L96.7 158.9 L96.9 159.9 L97.2 160.9 L97.4 161.9 L97.6 162.9 L97.9 163.9 L98.2 164.8 L98.4 165.8 L98.7 166.8 L99.1 167.7 L99.4 168.7 L99.7 169.6 L100.1 170.5 L100.5 171.4 L100.9 172.3 L101.3 173.2 L101.7 174.1 L102.2 174.9 L102.7 175.7 L103.2 176.6 L103.7 177.4 L104.2 178.2 L104.8 178.9 L105.4 179.7 L106.0 180.4 L106.6 181.1 L107.2 181.8 L107.9 182.5 L108.6 183.1 L109.3 183.8 L110.1 184.4 L110.8 185.0 L111.6 185.6 L112.4 186.1 L113.2 186.7 L114.0 187.2 L114.9 187.7 L115.8 188.2 L116.6 188.7 L117.5 189.1 L118.4 189.5 L119.3 190.0 L120.3 190.4 L121.2 190.7 L122.2 191.1 L123.1 191.5 L124.1 191.8 L125.1 192.1 L126.1 192.4 L127.1 192.7 L128.1 193.0 L129.1 193.3 L130.1 193.5 L131.1 193.8 L132.1 194.0 L133.1 194.2 L134.2 194.4 L135.2 194.6 L136.2 194.7 L137.2 194.9 L138.2 195.1 L139.3 195.2 L140.3 195.3 L141.3 195.4 L142.3 195.5 L143.3 195.6 L144.3 195.7 L145.3 195.7 L146.3 195.8 L147.3 195.8 L148.3 195.9 L149.3 195.9 L150.3 195.9 L151.3 195.9 L152.3 195.9 L153.3 195.9 L154.3 195.8 L155.3 195.8 L156.2 195.8 L157.2 195.7 L158.2 195.6 L159.2 195.6 L160.2 195.5 L161.2 195.4 L162.2 195.3 L163.1 195.2 L164.1 195.0 L165.1 194.9 L166.1 194.8 L167.1 194.6 L168.1 194.5 L169.1 194.3 L170.0 194.2 L171.0 194.0 L172.0 193.8 L173.0 193.6 L174.0 193.4 L175.0 193.2 L176.0 193.0 L177.0 192.8 L178.0 192.6 L179.0 192.4 L180.0 192.2 L180.9 191.9 L181.9 191.7 L182.9 191.4 L183.9 191.1 L184.9 190.9 L185.9 190.6 L186.9 190.3 L187.8 190.0 L188.8 189.6 L189.8 189.3 L190.7 188.9 L191.6 188.5 L192.5 188.1 L193.4 187.7 L194.3 187.3 L195.2 186.8 L196.0 186.3 L196.9 185.8 L197.7 185.3 L198.5 184.7 L199.2 184.1 L200.0 183.5 L200.7 182.8 L201.4 182.2 L202.1 181.4 L202.7 180.7 L203.4 180.0 L204.0 179.2 L204.6 178.4 L205.1 177.6 L205.7 176.8 L206.2 175.9 L206.7 175.1 L207.2 174.2 L207.7 173.3 L208.1 172.4 L208.5 171.5 L208.9 170.6 L209.3 169.6 L209.7 168.7 L210.1 167.7 L210.4 166.8 L210.7 165.8 L211.0 164.9 L211.3 163.9 L211.6 162.9 L211.9 161.9 L212.1 161.0 L212.4 160.0 L212.6 159.0 L212.8 158.0 L213.0 157.0 L213.2 156.0 L213.4 155.0 L213.6 154.0 L213.8 153.0 L213.9 152.0 L214.1 151.0 L214.3 149.9 L214.4 148.9 L214.6 147.9 L214.7 146.9 L214.9 145.9 L215.0 144.9 L215.1 143.9 L215.3 142.9 L215.4 141.9 L215.5 140.9 L215.7 139.9 L215.8 138.9 L215.9 137.9 L216.0 136.9 L216.2 135.9 L216.3 134.9 L216.4 134.0 L216.5 133.0 L216.6 132.0 L216.7 131.0 L216.8 130.0 L216.9 129.0 L217.0 128.0 L217.1 127.0 L217.2 126.0 L217.3 125.0 L217.4 124.1 L217.5 123.1 L217.6 122.1 L217.7 121.1 L217.7 120.1 L217.8 119.1 L217.9 118.1 L218.0 117.1 L218.0 116.1 L218.1 115.1 L218.2 114.1 L218.2 113.1 L218.3 112.1 L218.4 111.1 L218.4 110.1 L218.5 109.1 L218.5 108.1 L218.6 107.1 L218.6 106.1 L218.7 105.1 L218.7 104.1 L218.8 103.1 L218.8 102.1 L218.9 101.1 L218.9 100.1 L218.9 99.1 L219.0 98.1 L219.0 97.1 L219.0 96.1 L219.1 95.1 L219.1 94.1 L219.1 93.1 L219.1 92.1 L219.2 91.1 L219.2 90.1 L219.2 89.1 L219.2 88.1 L219.3 87.1 L219.3 86.1 L219.3 85.0 L219.3 84.0 L219.3 83.0 L219.4 82.0 L219.4 81.0 L219.4 80.0 L219.4 79.0 L219.4 78.0 L219.4 77.0 L219.4 76.0 L219.4 75.0 L219.5 74.0 L219.5 73.0 L219.5 71.9 L219.5 70.9 L219.5 69.9 L219.5 68.9 L219.5 67.9 L219.5 66.9 L219.5 65.9 L219.5 64.9 L219.5 63.9 L219.5 62.9 L219.5 61.9 L219.5 60.9 L219.6 59.9 L219.6 58.9 L219.6 57.9 L219.6 56.8 L219.6 55.8 L219.6 54.8 L219.6 53.8 L219.6 52.8 L219.6 51.8 L219.6 50.8 L219.6 49.8 L219.6 48.8 L219.6 47.8 L219.7 46.8 L219.7 45.8 L219.7 44.8 L219.7 43.8 L219.7 42.8 L219.7 41.8 L219.7 40.8 L219.7 39.8 L219.8 38.8 L219.8 37.8 L219.8 36.8 L219.8 35.8 L219.8 34.8 L219.9 33.8 L219.9 32.8"/>
<path stroke="#0000ff" d="M231.2 32.8 L231.0 33.8 L231.0 34.8 L231.1 35.8 L231.2 36.8 L231.3 37.8 L231.4 38.8 L231.4 39.9 L231.5 40.9 L231.6 41.9 L231.6 42.9 L231.7 43.9 L231.8 44.9 L231.8 45.9 L231.9 46.9 L231.9 47.9 L232.0 48.9 L232.0 49.9 L232.1 50.9 L232.1 52.0 L232.1 53.0 L232.2 54.0 L232.2 55.0 L232.3 56.0 L232.3 57.0 L232.3 58.0 L232.4 59.0 L232.4 60.0 L232.4 61.0 L232.5 62.0 L232.5 63.0 L232.5 64.0 L232.6 65.0 L232.6 66.0 L232.6 67.0 L232.6 68.0 L232.7 69.1 L232.7 70.1 L232.7 71.1 L232.8 72.1 L232.8 73.1 L232.8 74.1 L232.9 75.1 L232.9 76.1 L232.9 77.1 L233.0 78.1 L233.0 79.1 L233.1 80.1 L233.1 81.1 L233.1 82.1 L233.2 83.1 L233.2 84.1 L233.3 85.1 L233.3 86.1 L233.4 87.1 L233.5 88.1 L233.5 89.1 L233.6 90.1 L233.6 91.1 L233.7 92.1 L233.8 93.1 L233.9 94.1 L233.9 95.1 L234.0 96.0 L234.1 97.0 L234.2 98.0 L234.3 99.0 L234.4 100.0 L234.5 101.0 L234.6 102.0 L234.7 103.0 L234.8 104.0 L234.9 105.0 L235.0 106.0 L235.2 107.0 L235.3 108.0 L235.4 109.0 L235.6 109.9 L235.7 110.9 L235.9 111.9 L236.0 112.9 L236.2 113.9 L236.4 114.9 L236.6 115.9 L236.7 116.9 L236.9 117.9 L237.1 118.8 L237.3 119.8 L237.5 120.8 L237.7 121.8 L238.0 122.8 L238.2 123.8 L238.4 124.8 L238.7 125.7 L238.9 126.7 L239.2 127.7 L239.4 128.7 L239.7 129.7 L240.0 130.6 L240.3 131.6 L240.5 132.6 L240.8 133.6 L241.2 134.6 L241.5 135.5 L241.8 136.5 L242.1 137.5 L242.5 138.5 L242.8 139.5 L243.2 140.4 L243.6 141.4 L243.9 142.4 L244.3 143.3 L244.7 144.3 L245.1 145.2 L245.6 146.2 L246.0 147.1 L246.4 148.0 L246.9 148.9 L247.3 149.9 L247.8 150.8 L248.3 151.7 L248.8 152.6 L249.3 153.4 L249.8 154.3 L250.4 155.2 L250.9 156.0 L251.4 156.8 L252.0 157.7 L252.6 158.5 L253.2 159.3 L253.8 160.1 L254.4 160.8 L255.0 161.6 L255.7 162.3 L256.3 163.1 L257.0 163.8 L257.7 164.5 L258.4 165.1 L259.1 165.8 L259.8 166.4 L260.6 167.0 L261.3 167.6 L262.1 168.2 L262.9 168.8 L263.7 169.3 L264.5 169.8 L265.4 170.3 L266.2 170.8 L267.1 171.3 L267.9 171.7 L268.8 172.1 L269.7 172.5 L270.6 172.9 L271.6 173.2 L272.5 173.6 L273.4 173.9 L274.4 174.2 L275.3 174.4 L276.3 174.7 L277.3 174.9 L278.3 175.1 L279.3 175.3 L280.3 175.5 L281.3 175.6 L282.3 175.8 L283.3 175.9 L284.3 176.0 L285.3 176.0 L286.3 176.1 L287.4 176.1 L288.4 176.1 L289.4 176.1 L290.4 176.1 L291.5 176.0 L292.5 175.9 L293.5 175.9 L294.6 175.7 L295.6 175.6 L296.6 175.5 L297.6 175.3 L298.6 175.1 L299.6 174.9 L300.6 174.7 L301.6 174.4 L302.6 174.2 L303.6 173.9 L304.6 173.6 L305.5 173.2 L306.5 172.9 L307.5 172.5 L308.4 172.2 L309.3 171.8 L310.3 171.4 L311.2 170.9 L312.1 170.5 L312.9 170.0 L313.8 169.5 L314.7 169.0 L315.5 168.5 L316.4 167.9 L317.2 167.4 L318.0 166.8 L318.8 166.2 L319.5 165.6 L320.3 164.9 L321.0 164.3 L321.7 163.6 L322.4 162.9 L323.1 162.2 L323.7 161.5 L324.4 160.7 L325.0 160.0 L325.6 159.2 L326.2 158.4 L326.7 157.6 L327.2 156.8 L327.7 155.9 L328.2 155.1 L328.7 154.2 L329.1 153.3 L329.6 152.4 L330.0 151.5 L330.3 150.6 L330.7 149.6 L331.1 148.7 L331.4 147.7 L331.7 146.8 L332.0 145.8 L332.3 144.8 L332.6 143.8 L332.9 142.8 L333.1 141.8 L333.4 140.9 L333.6 139.9 L333.8 138.9 L334.0 137.8 L334.2 136.8 L334.4 135.8 L334.6 134.8 L334.7 133.8 L334.9 132.8 L335.0 131.8 L335.2 130.8 L335.3 129.8 L335.4 128.8 L335.5 127.8 L335.6 126.8 L335.7 125.8 L335.8 124.7 L335.9 123.7 L335.9 122.7 L336.0 121.7 L336.1 120.7 L336.1 119.7 L336.1 118.7 L336.2 117.7 L336.2 116.7 L336.2 115.7 L336.2 114.6 L336.2 113.6 L336.2 112.6 L336.2 111.6 L336.2 110.6 L336.2 109.6 L336.2 108.6 L336.1 107.6 L336.1 106.6 L336.1 105.6 L336.0 104.6 L336.0 103.6 L335.9 102.6 L335.8 101.6 L335.8 100.6 L335.7 99.6 L335.6 98.6 L335.6 97.6 L335.5 96.6 L335.4 95.6 L335.3 94.6 L335.2 93.6 L335.1 92.6 L335.0 91.6 L334.9 90.6 L334.8 89.6 L334.7 88.6 L334.6 87.6 L334.5 86.6 L334.3 85.7 L334.2 84.7 L334.1 83.7 L334.0 82.7 L333.8 81.7 L333.7 80.7 L333.6 79.7 L333.5 78.7 L333.3 77.7 L333.2 76.7 L333.0 75.7 L332.9 74.7 L332.8 73.7 L332.6 72.7 L332.5 71.7 L332.3 70.8 L332.2 69.8 L332.1 68.8 L331.9 67.8 L331.8 66.8 L331.6 65.8 L331.5 64.8 L331.3 63.8 L331.2 62.8 L331.0 61.8 L330.9 60.8 L330.8 59.8 L330.6 58.8 L330.5 57.8 L330.3 56.8 L330.2 55.8 L330.1 54.8 L329.9 53.8 L329.8 52.8 L329.7 51.9 L329.5 50.9 L329.4 49.9 L329.3 48.9 L329.2 47.9 L329.0 46.9 L328.9 45.9 L328.8 44.8 L328.7 43.8 L328.6 42.8 L328.5 41.8 L328.4 40.8 L328.3 39.8 L328.2 38.8 L328.1 37.8 L328.0 36.8 L327.9 35.8 L327.8 34.8 L327.8 33.8 L327.8 32.8"/>
<path stroke="#0000ff" d="M338.2 32.8 L338.6 33.6 L339.1 34.5 L339.7 35.4 L340.3 36.3 L341.0 37.2 L341.8 38.2 L342.6 39.1 L343.4 39.9 L344.3 40.6 L345.2 41.2 L346.2 41.6 L347.1 41.9 L348.0 42.0 L349.0 41.9 L349.9 41.6 L350.8 41.1 L351.6 40.4 L352.4 39.7 L353.2 38.8 L353.8 37.9 L354.4 36.9 L354.9 35.9 L355.3 34.8 L355.5 33.8 L355.7 32.8"/>
<path stroke="#0000ff" stroke-dasharray="5.5 4.5" d="M114.7 32.8 L114.5 33.8 L114.3 34.8 L114.1 35.8 L113.9 36.8 L113.7 37.8 L113.4 38.8 L113.2 39.8 L112.9 40.7 L112.7 41.7 L112.4 42.7 L112.1 43.6 L111.8 44.6 L111.5 45.6 L111.2 46.5 L110.9 47.5 L110.6 48.4 L110.3 49.4 L109.9 50.3 L109.6 51.2 L109.2 52.2 L108.9 53.1 L108.5 54.1 L108.2 55.0 L107.8 55.9 L107.4 56.8 L107.1 57.8 L106.7 58.7 L106.3 59.6 L105.9 60.5 L105.5 61.5 L105.1 62.4 L104.7 63.3 L104.4 64.2 L104.0 65.1 L103.6 66.1 L103.2 67.0 L102.8 67.9 L102.4 68.8 L102.0 69.7 L101.6 70.7 L101.2 71.6 L100.8 72.5 L100.5 73.4 L100.1 74.4 L99.7 75.3 L99.3 76.2 L99.0 77.1 L98.6 78.1 L98.2 79.0 L97.9 79.9 L97.5 80.9 L97.2 81.8 L96.8 82.8 L96.5 83.7 L96.2 84.7 L95.8 85.6 L95.5 86.6 L95.2 87.5 L94.9 88.5 L94.6 89.4 L94.3 90.4 L94.0 91.4 L93.7 92.3 L93.5 93.3 L93.2 94.3 L92.9 95.3 L92.7 96.2 L92.5 97.2 L92.2 98.2 L92.0 99.2 L91.8 100.1 L91.6 101.1 L91.4 102.1 L91.2 103.1 L91.0 104.1 L90.8 105.1 L90.6 106.1 L90.5 107.0 L90.3 108.0 L90.2 109.0 L90.0 110.0 L89.9 111.0 L89.8 112.0 L89.7 113.0 L89.6 114.0 L89.5 115.0 L89.4 116.0 L89.3 116.9 L89.2 117.9 L89.2 118.9 L89.1 119.9 L89.0 120.9 L89.0 121.9 L89.0 122.9 L88.9 123.9 L88.9 124.9 L88.9 125.9 L88.9 126.9 L88.9 127.9 L88.9 128.9 L88.9 129.9 L88.9 130.9 L88.9 131.9 L88.9 132.9 L88.9 133.9 L89.0 134.9 L89.0 135.9 L89.0 136.9 L89.1 137.9 L89.1 138.9 L89.1 139.9 L89.2 140.9 L89.2 141.9 L89.3 142.9 L89.3 143.9 L89.4 144.9 L89.5 145.9 L89.5 146.9 L89.6 147.9 L89.6 149.0 L89.7 150.0 L89.8 151.0 L89.8 152.0 L89.9 153.0 L90.0 154.0 L90.0 155.1 L90.1 156.1 L90.2 157.1 L90.2 158.1 L90.3 159.1 L90.4 160.2 L90.5 161.2 L90.6 162.2 L90.7 163.2 L90.8 164.2 L90.9 165.2 L91.0 166.2 L91.1 167.2 L91.3 168.2 L91.4 169.2 L91.6 170.2 L91.8 171.2 L92.0 172.1 L92.2 173.1 L92.5 174.1 L92.7 175.0 L93.0 176.0 L93.3 176.9 L93.6 177.9 L93.9 178.8 L94.3 179.7 L94.7 180.6 L95.1 181.5 L95.5 182.4 L96.0 183.2 L96.5 184.1 L97.0 184.9 L97.5 185.8 L98.1 186.6 L98.7 187.4 L99.3 188.2 L100.0 189.0 L100.6 189.7 L101.3 190.4 L102.1 191.1 L102.8 191.8 L103.6 192.5 L104.3 193.1 L105.2 193.7 L106.0 194.2 L106.8 194.8 L107.7 195.3 L108.6 195.7 L109.5 196.2 L110.4 196.6 L111.3 196.9 L112.3 197.3 L113.2 197.6 L114.2 197.9 L115.1 198.2 L116.1 198.5 L117.1 198.8 L118.1 199.0 L119.1 199.2 L120.1 199.4 L121.1 199.6 L122.1 199.8 L123.1 199.9 L124.1 200.1 L125.1 200.2 L126.1 200.3 L127.2 200.4 L128.2 200.5 L129.2 200.6 L130.2 200.6 L131.3 200.7 L132.3 200.7 L133.3 200.8 L134.3 200.8 L135.3 200.8 L136.4 200.8 L137.4 200.8 L138.4 200.8 L139.4 200.8 L140.4 200.8 L141.4 200.8 L142.4 200.8 L143.4 200.8 L144.4 200.8 L145.3 200.8 L146.3 200.7 L147.3 200.7 L148.2 200.7 L149.2 200.7 L150.1 200.7 L151.1 200.6 L152.1 200.6 L153.0 200.6 L154.0 200.6 L155.0 200.6 L155.9 200.5 L156.9 200.5 L157.9 200.5 L158.9 200.5 L159.9 200.5 L160.9 200.4 L161.9 200.4 L162.9 200.4 L163.9 200.4 L164.9 200.3 L166.0 200.3 L167.0 200.3 L168.0 200.3 L169.1 200.2 L170.1 200.2 L171.1 200.1 L172.2 200.1 L173.2 200.0 L174.3 199.9 L175.3 199.9 L176.4 199.8 L177.4 199.7 L178.4 199.6 L179.5 199.5 L180.5 199.3 L181.5 199.2 L182.6 199.0 L183.6 198.9 L184.6 198.7 L185.6 198.5 L186.6 198.3 L187.6 198.1 L188.6 197.9 L189.6 197.6 L190.5 197.4 L191.5 197.1 L192.5 196.8 L193.4 196.5 L194.3 196.2 L195.2 195.8 L196.2 195.5 L197.1 195.1 L197.9 194.7 L198.8 194.2 L199.7 193.8 L200.5 193.3 L201.3 192.8 L202.2 192.3 L203.0 191.8 L203.7 191.2 L204.5 190.6 L205.3 190.0 L206.0 189.3 L206.7 188.7 L207.4 188.0 L208.1 187.3 L208.7 186.5 L209.3 185.8 L209.9 185.0 L210.5 184.2 L211.0 183.4 L211.6 182.5 L212.1 181.6 L212.5 180.8 L212.9 179.9 L213.3 178.9 L213.7 178.0 L214.0 177.1 L214.3 176.1 L214.6 175.1 L214.8 174.1 L215.0 173.2 L215.2 172.2 L215.4 171.2 L215.6 170.2 L215.8 169.2 L216.0 168.1 L216.1 167.1 L216.3 166.1 L216.5 165.1 L216.6 164.1 L216.7 163.1 L216.9 162.1 L217.0 161.1 L217.1 160.1 L217.3 159.1 L217.4 158.1 L217.5 157.1 L217.6 156.1 L217.7 155.1 L217.8 154.1 L217.9 153.1 L218.0 152.1 L218.1 151.1 L218.2 150.1 L218.3 149.1 L218.4 148.1 L218.5 147.1 L218.6 146.1 L218.6 145.1 L218.7 144.1 L218.8 143.1 L218.9 142.1 L218.9 141.1 L219.0 140.1 L219.1 139.1 L219.1 138.1 L219.2 137.1 L219.3 136.1 L219.3 135.1 L219.4 134.1 L219.4 133.1 L219.5 132.1 L219.6 131.1 L219.6 130.1 L219.7 129.1 L219.7 128.1 L219.8 127.1 L219.8 126.1 L219.9 125.1 L219.9 124.1 L220.0 123.1 L220.0 122.1 L220.0 121.1 L220.1 120.1 L220.1 119.1 L220.1 118.1 L220.2 117.1 L220.2 116.1 L220.3 115.1 L220.3 114.1 L220.3 113.1 L220.3 112.1 L220.4 111.1 L220.4 110.1 L220.4 109.1 L220.5 108.1 L220.5 107.1 L220.5 106.1 L220.5 105.1 L220.5 104.0 L220.6 103.0 L220.6 102.0 L220.6 101.0 L220.6 100.0 L220.6 99.0 L220.7 98.0 L220.7 97.0 L220.7 96.0 L220.7 95.0 L220.7 94.0 L220.7 93.0 L220.7 92.0 L220.8 91.0 L220.8 90.0 L220.8 89.0 L220.8 88.0 L220.8 87.0 L220.8 86.0 L220.8 85.0 L220.8 84.0 L220.8 83.0 L220.8 82.0 L220.9 81.0 L220.9 80.0 L220.9 79.0 L220.9 78.0 L220.9 77.0 L220.9 76.0 L220.9 75.0 L220.9 74.0 L220.9 72.9 L220.9 71.9 L220.9 70.9 L220.9 69.9 L220.9 68.9 L220.9 67.9 L220.9 66.9 L220.9 65.9 L220.9 64.9 L221.0 63.9 L221.0 62.9 L221.0 61.9 L221.0 60.9 L221.0 59.9 L221.0 58.9 L221.0 57.9 L221.0 56.9 L221.0 55.9 L221.0 54.9 L221.0 53.9 L221.0 52.9 L221.0 51.9 L221.0 50.9 L221.1 49.9 L221.1 48.9 L221.1 47.9 L221.1 46.8 L221.1 45.8 L221.1 44.8 L221.1 43.8 L221.1 42.8 L221.2 41.8 L221.2 40.8 L221.2 39.8 L221.2 38.8 L221.2 37.8 L221.2 36.8 L221.3 35.8 L221.3 34.8 L221.3 33.8 L221.4 32.8"/>
<path stroke="#0000ff" stroke-dasharray="5.5 4.5" d="M229.8 32.8 L229.9 33.7 L229.9 34.8 L230.0 35.8 L230.1 36.8 L230.2 37.8 L230.2 38.8 L230.3 39.9 L230.3 40.9 L230.4 41.9 L230.5 42.9 L230.5 43.9 L230.6 44.9 L230.6 46.0 L230.7 47.0 L230.7 48.0 L230.8 49.0 L230.8 50.0 L230.8 51.0 L230.9 52.0 L230.9 53.0 L230.9 54.0 L231.0 55.0 L231.0 56.0 L231.1 57.1 L231.1 58.1 L231.1 59.1 L231.1 60.1 L231.2 61.1 L231.2 62.1 L231.2 63.1 L231.3 64.1 L231.3 65.1 L231.3 66.1 L231.3 67.1 L231.4 68.1 L231.4 69.1 L231.4 70.1 L231.5 71.1 L231.5 72.1 L231.5 73.1 L231.5 74.1 L231.6 75.0 L231.6 76.0 L231.6 77.0 L231.7 78.0 L231.7 79.0 L231.7 80.0 L231.8 81.0 L231.8 82.0 L231.8 83.0 L231.9 84.0 L231.9 85.0 L232.0 86.0 L232.0 87.0 L232.0 88.0 L232.1 89.0 L232.1 89.9 L232.2 90.9 L232.2 91.9 L232.3 92.9 L232.4 93.9 L232.4 94.9 L232.5 95.9 L232.5 96.9 L232.6 97.9 L232.7 98.9 L232.7 99.9 L232.8 100.8 L232.9 101.8 L233.0 102.8 L233.1 103.8 L233.2 104.8 L233.2 105.8 L233.3 106.8 L233.4 107.8 L233.5 108.8 L233.6 109.8 L233.8 110.8 L233.9 111.8 L234.0 112.7 L234.1 113.7 L234.2 114.7 L234.4 115.7 L234.5 116.7 L234.6 117.7 L234.8 118.7 L234.9 119.7 L235.1 120.7 L235.2 121.7 L235.4 122.7 L235.6 123.7 L235.7 124.7 L235.9 125.7 L236.1 126.7 L236.3 127.7 L236.5 128.7 L236.7 129.7 L236.9 130.7 L237.1 131.7 L237.3 132.7 L237.5 133.7 L237.8 134.7 L238.0 135.7 L238.2 136.7 L238.5 137.7 L238.7 138.7 L239.0 139.7 L239.3 140.7 L239.5 141.7 L239.8 142.7 L240.1 143.7 L240.4 144.7 L240.7 145.6 L241.0 146.6 L241.4 147.6 L241.7 148.6 L242.1 149.5 L242.4 150.5 L242.8 151.4 L243.2 152.4 L243.6 153.3 L244.0 154.2 L244.4 155.1 L244.8 156.0 L245.3 156.9 L245.7 157.8 L246.2 158.7 L246.7 159.5 L247.2 160.4 L247.7 161.2 L248.3 162.0 L248.8 162.8 L249.4 163.6 L249.9 164.4 L250.5 165.2 L251.1 165.9 L251.8 166.7 L252.4 167.4 L253.1 168.1 L253.8 168.7 L254.5 169.4 L255.2 170.0 L255.9 170.7 L256.7 171.3 L257.4 171.9 L258.2 172.4 L259.0 173.0 L259.8 173.5 L260.7 174.0 L261.5 174.5 L262.4 175.0 L263.2 175.5 L264.1 175.9 L265.0 176.4 L265.9 176.8 L266.8 177.2 L267.7 177.5 L268.7 177.9 L269.6 178.2 L270.6 178.5 L271.5 178.8 L272.5 179.1 L273.5 179.4 L274.5 179.7 L275.5 179.9 L276.5 180.1 L277.5 180.3 L278.5 180.5 L279.5 180.7 L280.5 180.8 L281.5 180.9 L282.5 181.1 L283.6 181.1 L284.6 181.2 L285.6 181.3 L286.7 181.3 L287.7 181.4 L288.7 181.4 L289.8 181.4 L290.8 181.4 L291.8 181.3 L292.9 181.3 L293.9 181.2 L294.9 181.1 L296.0 181.0 L297.0 180.9 L298.0 180.7 L299.0 180.6 L300.0 180.4 L301.0 180.2 L302.0 180.0 L303.0 179.8 L304.0 179.6 L305.0 179.3 L306.0 179.0 L307.0 178.7 L307.9 178.4 L308.9 178.1 L309.8 177.8 L310.8 177.4 L311.7 177.0 L312.6 176.6 L313.5 176.2 L314.5 175.8 L315.3 175.4 L316.2 174.9 L317.1 174.4 L318.0 173.9 L318.8 173.4 L319.7 172.9 L320.5 172.3 L321.3 171.8 L322.1 171.2 L322.9 170.6 L323.6 170.0 L324.4 169.3 L325.1 168.7 L325.8 168.0 L326.5 167.3 L327.2 166.6 L327.8 165.9 L328.5 165.2 L329.1 164.4 L329.7 163.6 L330.2 162.8 L330.8 162.0 L331.3 161.2 L331.8 160.4 L332.3 159.5 L332.7 158.6 L333.2 157.8 L333.6 156.9 L334.0 156.0 L334.4 155.0 L334.7 154.1 L335.1 153.2 L335.4 152.2 L335.7 151.3 L336.0 150.3 L336.3 149.3 L336.6 148.3 L336.8 147.4 L337.0 146.4 L337.3 145.4 L337.5 144.4 L337.7 143.4 L337.9 142.4 L338.1 141.4 L338.2 140.4 L338.4 139.4 L338.5 138.4 L338.7 137.4 L338.8 136.4 L338.9 135.4 L339.1 134.4 L339.2 133.4 L339.3 132.4 L339.3 131.4 L339.4 130.3 L339.5 129.3 L339.5 128.3 L339.6 127.3 L339.6 126.3 L339.7 125.3 L339.7 124.3 L339.7 123.2 L339.8 122.2 L339.8 121.2 L339.8 120.2 L339.8 119.2 L339.8 118.2 L339.8 117.2 L339.8 116.2 L339.7 115.2 L339.7 114.2 L339.7 113.1 L339.6 112.1 L339.6 111.1 L339.6 110.1 L339.5 109.1 L339.5 108.1 L339.4 107.1 L339.4 106.1 L339.3 105.1 L339.2 104.1 L339.1 103.1 L339.1 102.2 L339.0 101.2 L338.9 100.2 L338.8 99.2 L338.7 98.2 L338.6 97.2 L338.5 96.2 L338.4 95.2 L338.3 94.2 L338.2 93.2 L338.0 92.2 L337.9 91.3 L337.8 90.3 L337.6 89.3 L337.5 88.3 L337.4 87.3 L337.2 86.3 L337.1 85.3 L336.9 84.3 L336.7 83.4 L336.6 82.4 L336.4 81.4 L336.2 80.4 L336.0 79.4 L335.9 78.4 L335.7 77.4 L335.5 76.4 L335.3 75.5 L335.1 74.5 L334.9 73.5 L334.7 72.5 L334.5 71.5 L334.3 70.5 L334.1 69.5 L333.9 68.6 L333.7 67.6 L333.5 66.6 L333.3 65.6 L333.2 64.6 L333.0 63.6 L332.8 62.6 L332.6 61.6 L332.4 60.7 L332.2 59.7 L332.0 58.7 L331.8 57.7 L331.7 56.7 L331.5 55.7 L331.3 54.7 L331.1 53.7 L331.0 52.7 L330.8 51.7 L330.7 50.8 L330.5 49.8 L330.4 48.8 L330.2 47.8 L330.1 46.8 L330.0 45.8 L329.9 44.8 L329.7 43.8 L329.6 42.8 L329.5 41.8 L329.5 40.8 L329.4 39.8 L329.3 38.8 L329.2 37.8 L329.2 36.8 L329.1 35.8 L329.1 34.8 L329.0 33.8 L329.0 32.8"/>
<path stroke="#0000ff" stroke-dasharray="5.5 4.5" d="M335.5 32.8 L336.0 33.8 L336.5 34.7 L337.0 35.7 L337.5 36.6 L337.9 37.5 L338.3 38.4 L338.6 39.3 L339.0 40.2 L339.4 41.1 L339.9 42.1 L340.4 43.0 L340.9 43.9 L341.5 44.9 L342.1 45.8 L342.7 46.7 L343.5 47.6 L344.2 48.4 L345.0 49.2 L345.8 49.8 L346.7 50.4 L347.5 50.9 L348.4 51.3 L349.4 51.5 L350.3 51.6 L351.2 51.5 L352.2 51.2 L353.0 50.8 L353.9 50.2 L354.6 49.6 L355.4 48.8 L356.0 47.9 L356.6 47.0 L357.1 46.0 L357.6 45.0 L357.9 44.0 L358.3 43.0 L358.6 42.0 L358.8 41.0 L359.0 39.9 L359.2 38.9 L359.4 37.9 L359.5 36.9 L359.7 35.9 L359.8 34.9 L360.0 33.9 L360.2 32.8"/>
</g>
<rect x="77.25" y="29.7" width="294.45" height="181.5" fill="none" stroke="#000" stroke-width="1.9"/>
<path d="M82.60 211.2 v-5.0 M82.60 29.7 v5.0 M90.46 211.2 v-2.6 M90.46 29.7 v2.6 M98.31 211.2 v-2.6 M98.31 29.7 v2.6 M106.17 211.2 v-2.6 M106.17 29.7 v2.6 M114.02 211.2 v-2.6 M114.02 29.7 v2.6 M121.88 211.2 v-2.6 M121.88 29.7 v2.6 M129.73 211.2 v-2.6 M129.73 29.7 v2.6 M137.59 211.2 v-2.6 M137.59 29.7 v2.6 M145.44 211.2 v-2.6 M145.44 29.7 v2.6 M153.30 211.2 v-5.0 M153.30 29.7 v5.0 M161.16 211.2 v-2.6 M161.16 29.7 v2.6 M169.01 211.2 v-2.6 M169.01 29.7 v2.6 M176.87 211.2 v-2.6 M176.87 29.7 v2.6 M184.72 211.2 v-2.6 M184.72 29.7 v2.6 M192.58 211.2 v-2.6 M192.58 29.7 v2.6 M200.43 211.2 v-2.6 M200.43 29.7 v2.6 M208.29 211.2 v-2.6 M208.29 29.7 v2.6 M216.14 211.2 v-2.6 M216.14 29.7 v2.6 M224.00 211.2 v-5.0 M224.00 29.7 v5.0 M231.86 211.2 v-2.6 M231.86 29.7 v2.6 M239.71 211.2 v-2.6 M239.71 29.7 v2.6 M247.57 211.2 v-2.6 M247.57 29.7 v2.6 M255.42 211.2 v-2.6 M255.42 29.7 v2.6 M263.28 211.2 v-2.6 M263.28 29.7 v2.6 M271.13 211.2 v-2.6 M271.13 29.7 v2.6 M278.99 211.2 v-2.6 M278.99 29.7 v2.6 M286.84 211.2 v-2.6 M286.84 29.7 v2.6 M294.70 211.2 v-5.0 M294.70 29.7 v5.0 M302.56 211.2 v-2.6 M302.56 29.7 v2.6 M310.41 211.2 v-2.6 M310.41 29.7 v2.6 M318.27 211.2 v-2.6 M318.27 29.7 v2.6 M326.12 211.2 v-2.6 M326.12 29.7 v2.6 M333.98 211.2 v-2.6 M333.98 29.7 v2.6 M341.83 211.2 v-2.6 M341.83 29.7 v2.6 M349.69 211.2 v-2.6 M349.69 29.7 v2.6 M357.54 211.2 v-2.6 M357.54 29.7 v2.6 M365.40 211.2 v-5.0 M365.40 29.7 v5.0 M77.25 208.30 h5.9 M371.7 208.30 h-5.9 M77.25 193.68 h2.6 M371.7 193.68 h-2.6 M77.25 179.05 h2.6 M371.7 179.05 h-2.6 M77.25 164.43 h2.6 M371.7 164.43 h-2.6 M77.25 149.80 h5.9 M371.7 149.80 h-5.9 M77.25 135.18 h2.6 M371.7 135.18 h-2.6 M77.25 120.55 h2.6 M371.7 120.55 h-2.6 M77.25 105.93 h2.6 M371.7 105.93 h-2.6 M77.25 91.30 h5.9 M371.7 91.30 h-5.9 M77.25 76.68 h2.6 M371.7 76.68 h-2.6 M77.25 62.05 h2.6 M371.7 62.05 h-2.6 M77.25 47.43 h2.6 M371.7 47.43 h-2.6 M77.25 32.80 h5.9 M371.7 32.80 h-5.9" stroke="#000" stroke-width="1.2" fill="none"/>
<g font-family="Liberation Serif, serif" font-size="21.9" fill="#000">
<text x="72.7" y="216.0" text-anchor="end">0</text>
<text x="72.7" y="157.5" text-anchor="end">0.004</text>
<text x="72.7" y="99.0" text-anchor="end">0.008</text>
<text x="72.7" y="40.5" text-anchor="end">0.012</text>
<text x="82.6" y="235.8" text-anchor="middle">0</text>
<text x="153.3" y="235.8" text-anchor="middle">90</text>
<text x="224.0" y="235.8" text-anchor="middle">180</text>
<text x="294.7" y="235.8" text-anchor="middle">270</text>
<text x="365.4" y="235.8" text-anchor="middle">360</text>
</g>
<g font-family="Liberation Serif, serif" font-weight="bold" fill="#000">
<text><tspan x="142.67" y="262.0" font-size="21.3" font-style="italic">ϕ</tspan><tspan x="154.64" y="265.8" font-size="15.2">sb</tspan></text><text transform="translate(182.52,262.2) scale(1.15,1)" font-size="21">arg</text><text><tspan x="217.78" y="262.2" font-size="21">(</tspan><tspan x="223.33" y="262.2" font-size="20" font-style="italic">V</tspan><tspan x="237.10" y="266.2" font-size="16.5" font-style="italic">t</tspan><tspan x="241.57" y="266.8" font-size="15.5" font-style="italic">'</tspan><tspan x="249.28" y="266.2" font-size="14.5" font-style="italic">s</tspan><tspan x="256.30" y="257.2" font-size="14.5">*</tspan><tspan x="263.53" y="262.2" font-size="20" font-style="italic">V</tspan><tspan x="277.20" y="266.2" font-size="16.5" font-style="italic">t</tspan><tspan x="281.87" y="266.8" font-size="15.5" font-style="italic">'</tspan><tspan x="289.60" y="266.2" font-size="15.5" font-style="italic">b</tspan><tspan x="298.52" y="262.2" font-size="21">)</tspan></text>
<path d="M171.5 253.6h10v2.1h-10zM171.5 257.9h10v2.1h-10z"/>
<g transform="translate(19.6,200.0) rotate(-90)"><text><tspan x="17.27" y="0" font-size="21" font-style="italic">r</tspan><tspan x="25.04" y="3.3" font-size="15.2">sb</tspan><tspan x="56.13" y="0.2" font-size="19.5" stroke="#000" stroke-width="0.8">|</tspan><tspan x="61.53" y="0" font-size="20" font-style="italic">V</tspan><tspan x="74.70" y="3.3" font-size="16.5" font-style="italic">t</tspan><tspan x="78.87" y="3.9" font-size="15.5" font-style="italic">'</tspan><tspan x="86.28" y="3.3" font-size="14.5" font-style="italic">s</tspan><tspan x="94.00" y="-5.6" font-size="14.5">*</tspan><tspan x="102.63" y="0" font-size="20" font-style="italic">V</tspan><tspan x="116.40" y="3.3" font-size="16.5" font-style="italic">t</tspan><tspan x="119.87" y="3.9" font-size="15.5" font-style="italic">'</tspan><tspan x="127.30" y="3.3" font-size="15.5" font-style="italic">b</tspan><tspan x="137.13" y="0.2" font-size="19.5" stroke="#000" stroke-width="0.8">|</tspan></text></g>
<path d="M10.1 147.1h2.3v10.6h-2.3zM15.8 147.1h2.3v10.6h-2.3z"/>
</g>
<g font-family="Liberation Serif, serif" font-weight="bold" fill="#ff0000" stroke="#ff0000" stroke-width="0.2">
<text><tspan x="142.97" y="109.7" font-size="11.6">10</tspan><tspan x="153.78" y="105.6" font-size="8">9</tspan><tspan x="167.79" y="109.7" font-size="11.6">(</tspan><tspan x="171.51" y="109.7" font-size="11.5" font-style="italic">B</tspan><tspan x="178.94" y="111.5" font-size="8" font-style="italic">s</tspan><tspan x="180.53" y="109.7" font-size="16" stroke-width="0.55">→</tspan><tspan x="194.68" y="109.7" font-size="11.3" font-style="italic">μ</tspan><tspan x="201.18" y="109.7" font-size="11.3" font-style="italic">μ</tspan><tspan x="208.14" y="109.7" font-size="11.3">)</tspan><tspan x="144.28" y="131.9" font-size="12.5">=</tspan><tspan x="154.95" y="131.6" font-size="12">3.2</tspan><tspan x="169.33" y="126.5" font-size="8.9">+2.7</tspan><tspan x="169.33" y="134.8" font-size="8.9">−2.7</tspan></text>
<path d="M200.3 101.4 H208.2" stroke="#ff0000" stroke-width="0.9" fill="none"/>
<path transform="translate(158.6,101.5)" d="M3 8.3C3.8 5.5 4.6 3 5.4 0.7M5.4 0.7C3.5 0.3 1 0.9 0.6 2.6C0.4 3.9 1.8 4.4 2.8 3.6M4.8 0.6C6.5 0.2 9.6 0 9.5 1.8C9.4 3.3 7.4 4 5.6 4.1C7.6 4.2 8.9 5 8.6 6.4C8.3 7.9 5.5 8.6 3 8.3C2 8.2 1.4 7.6 1.6 7" stroke="#ff0000" stroke-width="0.95" fill="none" stroke-linecap="round"/>
</g>
<g font-family="Liberation Serif, serif" font-weight="bold" fill="#0000ff">
<text><tspan x="236.83" y="66.89999999999999" font-size="10.6" font-style="italic">ϕ</tspan><tspan x="242.84" y="67.69999999999999" font-size="8" font-style="italic">s</tspan><tspan x="250.05" y="67.39999999999999" font-size="13">=</tspan><tspan x="261.21" y="67.39999999999999" font-size="13">−</tspan><tspan x="268.85" y="67.1" font-size="11.9">0.002±0.087</tspan></text>
</g>
</svg></body></html>
